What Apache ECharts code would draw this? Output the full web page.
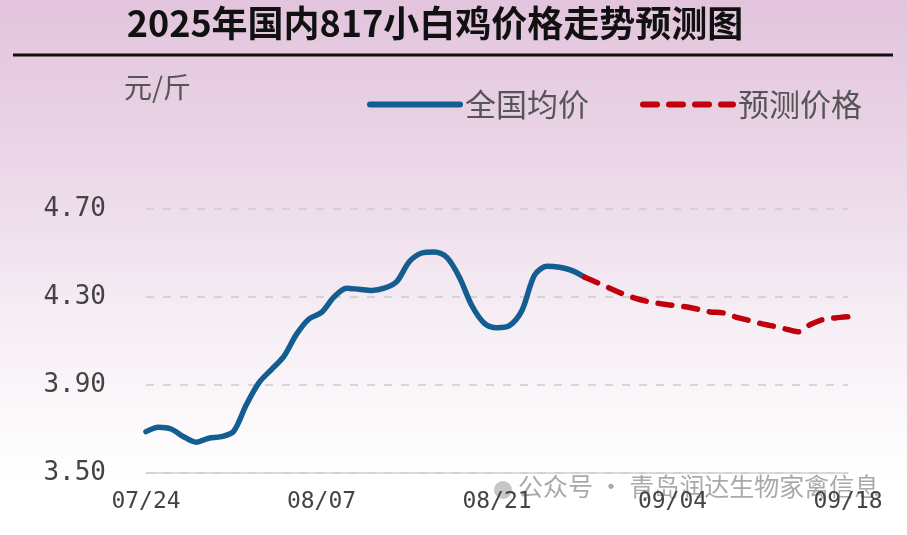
<!DOCTYPE html>
<html>
<head>
<meta charset="utf-8">
<script src="https://cdn.jsdelivr.net/npm/echarts@6/dist/echarts.min.js"></script>
<style>html,body{margin:0;padding:0;}#c{width:907px;height:535px;}</style>
</head>
<body>
<div id="c"></div>
<script>
var dates = ['07/24','07/25','07/26','07/27','07/28','07/29','07/30','07/31',
  '08/01','08/02','08/03','08/04','08/05','08/06','08/07','08/08','08/09','08/10','08/11','08/12','08/13','08/14','08/15','08/16','08/17','08/18','08/19','08/20','08/21','08/22','08/23','08/24','08/25','08/26','08/27','08/28','08/29','08/30','08/31',
  '09/01','09/02','09/03','09/04','09/05','09/06','09/07','09/08','09/09','09/10','09/11','09/12','09/13','09/14','09/15','09/16','09/17','09/18'];
var actualPrice = [3.688,3.708,3.700,3.665,3.640,3.658,3.665,3.690,3.810,3.910,3.970,4.030,4.130,4.200,4.230,4.300,4.340,4.335,4.330,4.340,4.370,4.460,4.500,4.505,4.480,4.390,4.260,4.180,4.160,4.170,4.240,4.400,4.440,4.435,4.420,4.390];
var forecastPrice = [4.390,4.365,4.340,4.315,4.295,4.280,4.270,4.262,4.256,4.245,4.232,4.228,4.210,4.195,4.180,4.168,4.155,4.142,4.175,4.198,4.205,4.210];
var yTicks = [3.5, 3.9, 4.3, 4.7];

var forecastStart = actualPrice.length - 1;
var blueData = dates.map(function(d, i){ return i < actualPrice.length ? actualPrice[i] : null; });
var redData = dates.map(function(d, i){ return i >= forecastStart ? forecastPrice[i - forecastStart] : null; });

var chart = echarts.init(document.getElementById('c'));
chart.setOption({
  animation: false,
  backgroundColor: {
    type: 'linear', x: 0, y: 0, x2: 0, y2: 1,
    colorStops: [
      {offset: 0, color: '#e2c4dc'},
      {offset: 0.3, color: '#ebd6e7'},
      {offset: 0.6, color: '#f6eef5'},
      {offset: 0.9, color: '#ffffff'},
      {offset: 1, color: '#ffffff'}
    ]
  },
  title: {
    text: '2025年国内817小白鸡价格走势预测图',
    left: 430, textAlign: 'center', top: 0,
    textStyle: {fontFamily: 'Noto Sans CJK SC', fontWeight: 'bold', fontSize: 36, color: '#111'}
  },
  graphic: [
    {type: 'line', shape: {x1: 13, y1: 55, x2: 893, y2: 55}, style: {stroke: '#111', lineWidth: 3}},
    {type: 'text', left: 124, top: 73, style: {text: '元/斤', fontFamily: 'Noto Sans CJK SC', fontSize: 28, fill: '#555'}},
    {type: 'circle', shape: {cx: 503, cy: 490, r: 9}, style: {fill: '#b8b8b8', opacity: 0.8}},
    {type: 'text', left: 518, top: 474, style: {text: '公众号 · 青岛润达生物家禽信息', fontFamily: 'Noto Sans CJK SC', fontSize: 25, fill: 'rgba(140,140,140,0.75)'}}
  ],
  legend: {
    left: 362, top: 84,
    itemWidth: 90, itemHeight: 14, itemGap: 51,
    lineStyle: {width: 6},
    itemStyle: {opacity: 0},
    textStyle: {fontFamily: 'Noto Sans CJK SC', fontSize: 31, color: '#555'},
    data: ['全国均价', '预测价格']
  },
  grid: {left: 146, right: 59, top: 209, bottom: 62},
  xAxis: {
    type: 'category',
    data: dates,
    boundaryGap: false,
    axisLine: {lineStyle: {color: '#cfcfcf', width: 1.5}},
    axisTick: {show: false},
    axisLabel: {interval: 13, margin: 18, fontFamily: 'DejaVu Sans Mono', fontSize: 23, color: '#444'}
  },
  yAxis: {
    type: 'value',
    min: yTicks[0], max: yTicks[yTicks.length - 1], interval: 0.4,
    axisLine: {show: false},
    axisTick: {show: false},
    axisLabel: {margin: 40, fontFamily: 'DejaVu Sans Mono', fontSize: 26, color: '#444',
      formatter: function(v){ return v.toFixed(2); }},
    splitLine: {lineStyle: {color: '#cccccc', width: 1.5, type: [8, 9]}}
  },
  series: [
    {
      name: '全国均价', type: 'line', data: blueData, symbol: 'none', smooth: 0.3,
      connectNulls: false,
      lineStyle: {color: '#135d91', width: 5.5, cap: 'round', join: 'round'},
      itemStyle: {color: '#135d91'}
    },
    {
      name: '预测价格', type: 'line', data: redData, symbol: 'none', smooth: 0.3,
      lineStyle: {color: '#c0000c', width: 5.5, type: [14, 12], cap: 'round', join: 'round'},
      itemStyle: {color: '#c0000c'}
    }
  ]
});
</script>
</body>
</html>
